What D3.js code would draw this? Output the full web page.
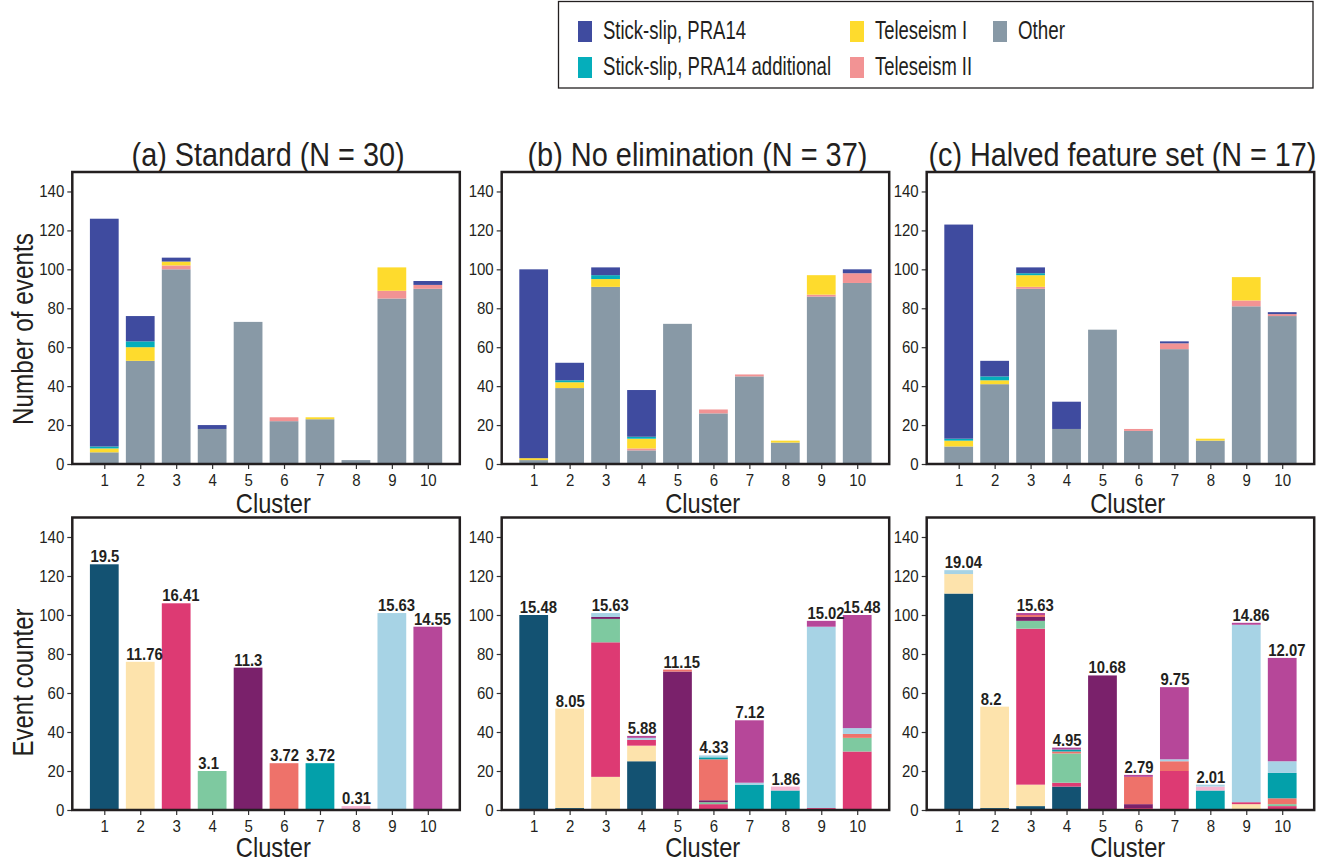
<!DOCTYPE html>
<html>
<head>
<meta charset="utf-8">
<script src="https://cdn.jsdelivr.net/npm/d3@7"></script>
<style>
  body { margin: 0; background: #fff; }
  svg { display: block; }
  text { font-family: "Liberation Sans", Arial, Helvetica, sans-serif; fill: #231f20; }
</style>
</head>
<body>
<svg id="chart" width="1327" height="863"></svg>
<script>
// ---------- data ----------
const clusters = [1, 2, 3, 4, 5, 6, 7, 8, 9, 10];
const yTicks = [0, 20, 40, 60, 80, 100, 120, 140];
const panelTitles = ["(a) Standard (N = 30)", "(b) No elimination (N = 37)", "(c) Halved feature set (N = 17)"];

// event types, stacked bottom -> top
const eventTypes = ["Other", "Teleseism II", "Teleseism I", "Stick-slip, PRA14 additional", "Stick-slip, PRA14"];
const typeColors = ["#8899a6", "#f29394", "#fedb2d", "#05aebb", "#3f4b9f"];

// events per cluster by type (rows follow eventTypes)
const standardByType = [
  [6, 53, 100, 18, 73, 22, 23, 2, 85, 90],
  [0, 0, 2, 0, 0, 2, 0, 0, 4, 2],
  [2, 7, 2, 0, 0, 0, 1, 0, 12, 0],
  [1, 3, 0, 0, 0, 0, 0, 0, 0, 0],
  [117, 13, 2, 2, 0, 0, 0, 0, 0, 2]
];
const noElimByType = [
  [2, 39, 91, 7, 72, 26, 45, 11, 86, 93],
  [0, 0, 0, 1, 0, 2, 1, 0, 1, 5],
  [1, 3, 4, 5, 0, 0, 0, 1, 10, 0],
  [0, 1, 2, 1, 0, 0, 0, 0, 0, 0],
  [97, 9, 4, 24, 0, 0, 0, 0, 0, 2]
];
const halvedByType = [
  [9, 41, 90, 18, 69, 17, 59, 12, 81, 76],
  [0, 0, 1, 0, 0, 1, 3, 0, 3, 1],
  [3, 2, 6, 0, 0, 0, 0, 1, 12, 0],
  [1, 2, 1, 0, 0, 0, 0, 0, 0, 0],
  [110, 8, 3, 14, 0, 0, 1, 0, 0, 1]
];

// colours of the standard clusters 1..10
const clusterColors = ["#135272", "#fde3ac", "#dd3a73", "#7ec9a0", "#7a216b",
                       "#ee726a", "#03a0aa", "#f6b4d0", "#a7d3e5", "#b64799"];

// events per cluster (rows) split by standard-cluster membership (columns 1..10)
const noElimComposition = [
  [100, 0, 0, 0, 0, 0, 0, 0, 0, 0],
  [1, 51, 0, 0, 0, 0, 0, 0, 0, 0],
  [0, 17, 69, 12, 1, 0, 0, 0, 2, 0],
  [25, 8, 3, 0, 0, 0, 0, 0, 1, 1],
  [0, 0, 0, 0, 71, 1, 0, 0, 0, 0],
  [0, 0, 3, 1, 1, 21, 1, 0, 1, 0],
  [0, 0, 0, 0, 0, 0, 13, 0, 1, 32],
  [0, 0, 0, 0, 0, 0, 10, 2, 0, 0],
  [0, 0, 1, 0, 0, 0, 0, 0, 93, 3],
  [0, 0, 30, 7, 0, 2, 0, 0, 3, 58]
];
const halvedComposition = [
  [111, 10, 0, 0, 0, 0, 0, 0, 2, 0],
  [1, 52, 0, 0, 0, 0, 0, 0, 0, 0],
  [2, 11, 80, 4, 2, 1, 0, 0, 0, 1],
  [12, 0, 2, 15, 0, 1, 1, 0, 0, 1],
  [0, 0, 0, 0, 69, 0, 0, 0, 0, 0],
  [0, 0, 1, 0, 2, 14, 0, 0, 0, 1],
  [0, 0, 20, 0, 0, 5, 0, 0, 1, 37],
  [0, 0, 0, 0, 0, 0, 10, 2, 1, 0],
  [0, 3, 1, 0, 0, 0, 0, 0, 91, 1],
  [0, 0, 2, 1, 0, 3, 13, 0, 6, 53]
];

// ---------- layout ----------
const svg = d3.select("#chart");
const panelLeft = [72.3, 501.7, 926.7];
const panelWidth = 387.5;
const rows = [{ top: 172, bottom: 464 }, { top: 517.5, bottom: 810 }];
const titleWidths = [273, 340, 388];

// squeeze a text element horizontally to a fraction of its natural width
function condense(sel, k) {
  sel.each(function () {
    const w = this.getComputedTextLength();
    d3.select(this).attr("textLength", w * k).attr("lengthAdjust", "spacingAndGlyphs");
  });
}

// standard run composition: each cluster belongs entirely to itself
const standardTotals = clusters.map((c, i) => d3.sum(standardByType, r => r[i]));
const standardComposition = clusters.map((c, i) => clusters.map((d, j) => (i === j ? standardTotals[i] : 0)));

const byType = [standardByType, noElimByType, halvedByType];
const compositions = [standardComposition, noElimComposition, halvedComposition];
const grandTotal = d3.sum(standardTotals);

function drawPanel(p, r, stacks, colors, withLabels) {
  const left = panelLeft[p], right = left + panelWidth;
  const { top, bottom } = rows[r];
  const x = d3.scaleLinear().domain([0.11, 10.89]).range([left, right]);
  const y = d3.scaleLinear().domain([0, 150]).range([bottom, top]);
  const g = svg.append("g");

  // stacked bars: stacks[k][i] = amount of layer k in cluster i
  const segs = [];
  clusters.forEach((c, i) => {
    let acc = 0;
    stacks.forEach((layer, k) => {
      const v = layer[i];
      if (v > 0) segs.push({ c, y0: acc, y1: acc + v, color: colors[k] });
      acc += v;
    });
  });
  g.selectAll("rect.seg").data(segs).join("rect")
    .attr("class", "seg")
    .attr("x", d => x(d.c - 0.4))
    .attr("width", x(0.8) - x(0))
    .attr("y", d => y(d.y1))
    .attr("height", d => y(d.y0) - y(d.y1))
    .attr("fill", d => d.color);

  if (withLabels) {
    const totals = clusters.map((c, i) => ({ c, v: d3.sum(stacks, l => l[i]) }));
    g.selectAll("text.val").data(totals).join("text")
      .attr("class", "val")
      .attr("x", d => x(d.c - 0.4) + 0.5)
      .attr("y", d => y(d.v) - 2)
      .attr("font-size", 16.5).attr("font-weight", "bold")
      .text(d => String(+(d.v / grandTotal * 100).toFixed(2)))
      .call(condense, 0.9);
  }

  // axes
  const ya = g.append("g").attr("transform", `translate(${left},0)`)
    .call(d3.axisLeft(y).tickValues(yTicks).tickSize(5).tickPadding(3));
  const xa = g.append("g").attr("transform", `translate(0,${bottom})`)
    .call(d3.axisBottom(x).tickValues(clusters).tickFormat(d3.format("d")).tickSize(5).tickPadding(5));
  [ya, xa].forEach(a => {
    a.select(".domain").remove();
    a.selectAll("line").attr("stroke", "#333").attr("stroke-width", 1.2);
    a.selectAll("text").attr("font-size", 16.5).attr("fill", "#231f20")
      .attr("font-family", "'Liberation Sans', Arial, sans-serif").call(condense, 0.91);
  });

  // frame
  g.append("rect").attr("x", left).attr("y", top)
    .attr("width", right - left).attr("height", bottom - top)
    .attr("fill", "none").attr("stroke", "#231f20").attr("stroke-width", 2.5);

  // x label
  g.append("text").attr("x", left + 201).attr("y", bottom + (r === 0 ? 49 : 47))
    .attr("text-anchor", "middle").attr("font-size", 28)
    .attr("textLength", 75).attr("lengthAdjust", "spacingAndGlyphs").text("Cluster");
}

for (let p = 0; p < 3; p++) {
  drawPanel(p, 0, byType[p], typeColors, false);
  // bottom row: layers are the standard clusters (columns of the composition matrix)
  const comp = compositions[p];
  const layers = clusters.map((c, j) => comp.map(row => row[j]));
  drawPanel(p, 1, layers, clusterColors, true);

  svg.append("text")
    .attr("x", panelLeft[p] + panelWidth / 2 + 2).attr("y", 166)
    .attr("text-anchor", "middle").attr("font-size", 32.5)
    .attr("textLength", titleWidths[p]).attr("lengthAdjust", "spacingAndGlyphs")
    .text(panelTitles[p]);
}

// y labels
svg.append("text").attr("transform", "translate(33,329) rotate(-90)")
  .attr("text-anchor", "middle").attr("font-size", 29)
  .attr("textLength", 192).attr("lengthAdjust", "spacingAndGlyphs").text("Number of events");
svg.append("text").attr("transform", "translate(33,682.5) rotate(-90)")
  .attr("text-anchor", "middle").attr("font-size", 29)
  .attr("textLength", 148).attr("lengthAdjust", "spacingAndGlyphs").text("Event counter");

// ---------- legend ----------
const legend = svg.append("g");
legend.append("rect").attr("x", 558.5).attr("y", 1.5).attr("width", 754.5).attr("height", 86.5)
  .attr("fill", "#fff").attr("stroke", "#231f20").attr("stroke-width", 1.3);
const legendItems = [
  { t: 4, x: 578, y: 21, w: 143 },
  { t: 3, x: 578, y: 57, w: 228 },
  { t: 2, x: 850, y: 21, w: 92 },
  { t: 1, x: 850, y: 57, w: 97 },
  { t: 0, x: 993, y: 21, w: 47 }
];
legendItems.forEach(it => {
  legend.append("rect").attr("x", it.x).attr("y", it.y).attr("width", 14).attr("height", 21)
    .attr("fill", typeColors[it.t]);
  legend.append("text").attr("x", it.x + 25).attr("y", it.y + 17.5)
    .attr("font-size", 25.5)
    .attr("textLength", it.w).attr("lengthAdjust", "spacingAndGlyphs")
    .text(eventTypes[it.t]);
});
</script>
</body>
</html>
